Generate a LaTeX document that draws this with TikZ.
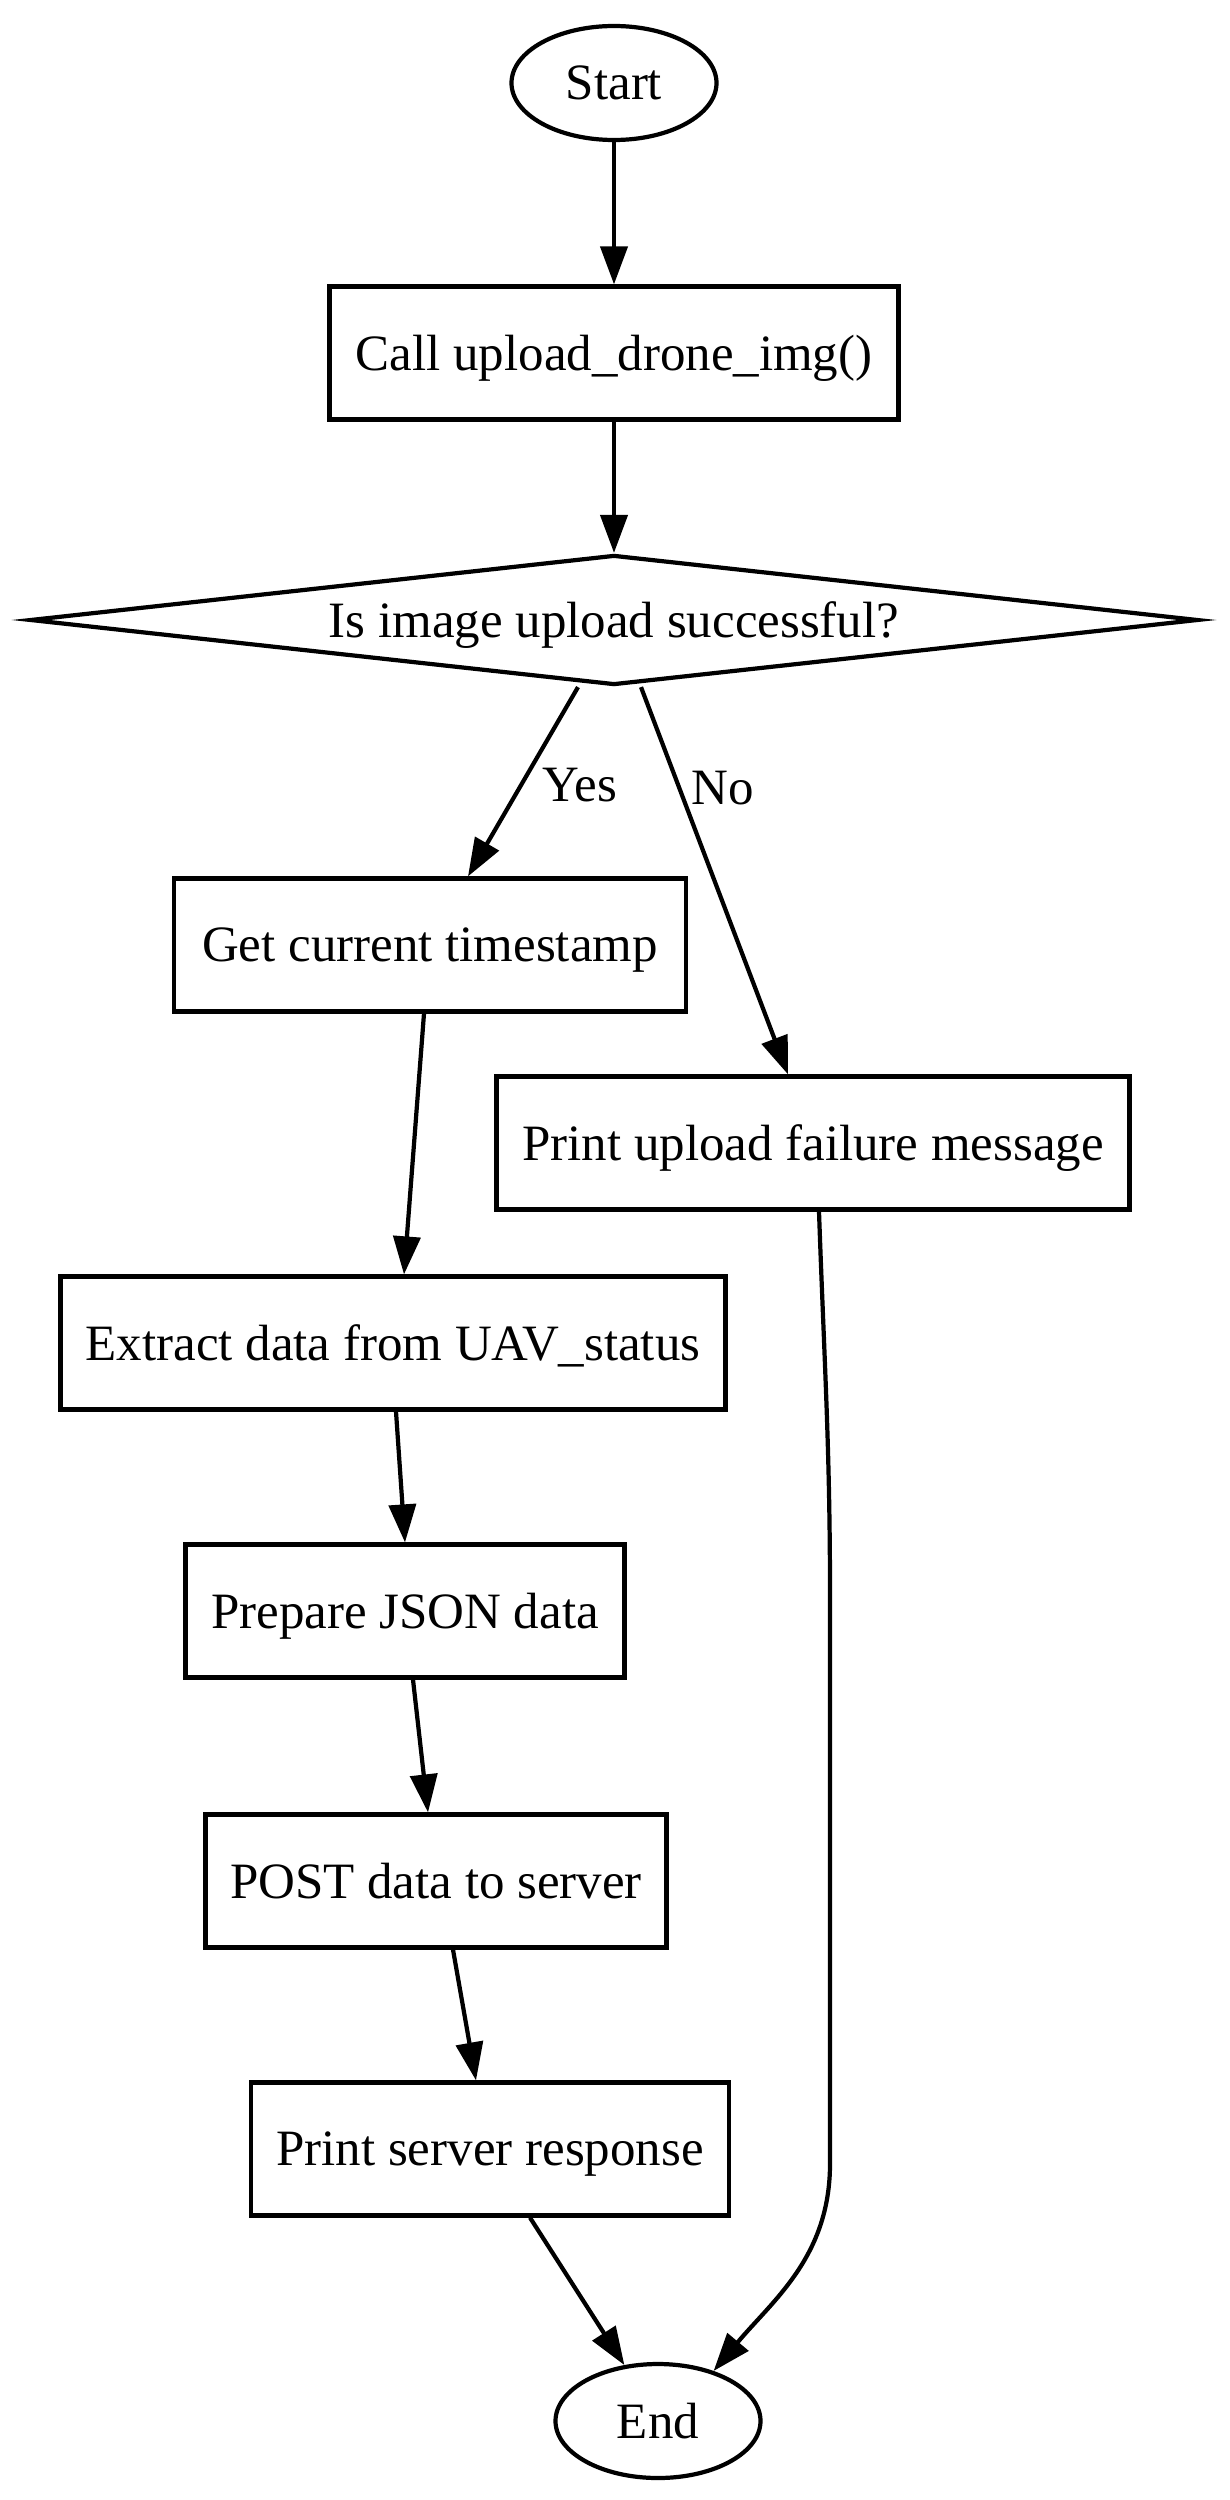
\documentclass[tikz,border=0pt]{standalone}
\usepackage{fontspec}
\setmainfont{Liberation Serif}
\usetikzlibrary{shapes.geometric, arrows.meta}

\begin{document}
\begin{tikzpicture}[>={Triangle[length=0.38cm, width=0.27cm]}, line width=1.2pt,
  every node/.style={font=\fontsize{14.5}{17}\selectfont},
  stepbox/.style={rectangle, draw, line width=1.2pt, inner sep=0pt, text depth=0pt, minimum height=1.33cm},
  terminal/.style={ellipse, draw, line width=1.2pt, inner sep=0pt, text depth=0pt, minimum width=2.05cm, minimum height=1.14cm},
  decision/.style={diamond, draw, line width=1.2pt, inner sep=0pt, text depth=0pt, aspect=8.7, minimum width=11.68cm, minimum height=1.30cm},
  edgelabel/.style={inner sep=0pt}]

\useasboundingbox (0,0) rectangle (12.29,-25);

% === Nodes ===
\node[terminal] (Start) at (6.14,-0.83) {Start};
\node[stepbox, minimum width=5.69cm] (Call) at (6.14,-3.53) {Call upload\_drone\_img()};
\node[decision] (Check) at (6.14,-6.20) {Is image upload successful?};
\node[stepbox, minimum width=5.12cm] (Stamp) at (4.30,-9.45) {Get current timestamp};
\node[stepbox, minimum width=6.33cm] (Fail) at (8.13,-11.43) {Print upload failure message};
\node[stepbox, minimum width=6.65cm] (Extract) at (3.93,-13.43) {Extract data from UAV\_status};
\node[stepbox, minimum width=4.39cm] (Json) at (4.05,-16.11) {Prepare JSON data};
\node[stepbox, minimum width=4.61cm] (Post) at (4.36,-18.81) {POST data to server};
\node[stepbox, minimum width=4.78cm] (Resp) at (4.90,-21.49) {Print server response};
\node[terminal] (End) at (6.58,-24.21) {End};

% === Connections ===
\draw[->] (Start) -- (Call);
\draw[->] (Call) -- (Check);

% Yes / No branches
\draw[->] ([xshift=-0.36cm]Check.south) -- node[edgelabel, pos=0.52, right=0.2cm] {Yes} ([xshift=0.38cm]Stamp.north);
\draw[->] ([xshift=0.27cm]Check.south) -- node[edgelabel, pos=0.26, right=0.1cm] {No} ([xshift=-0.25cm]Fail.north);

% main chain
\draw[->] ([xshift=-0.06cm]Stamp.south) -- ([xshift=0.11cm]Extract.north);
\draw[->] ([xshift=0.03cm]Extract.south) -- (Json.north);
\draw[->] ([xshift=0.08cm]Json.south) -- ([xshift=-0.08cm]Post.north);
\draw[->] ([xshift=0.17cm]Post.south) -- ([xshift=-0.14cm]Resp.north);
\draw[->] ([xshift=0.40cm]Resp.south) -- (End.121);

% failure -> end
\draw[->] ([xshift=0.06cm]Fail.south) to[out=-88, in=90] ++(0.11,-3.85) -- ++(0,-5.67) to[out=-90, in=50] (End.42);
\end{tikzpicture}
\end{document}
